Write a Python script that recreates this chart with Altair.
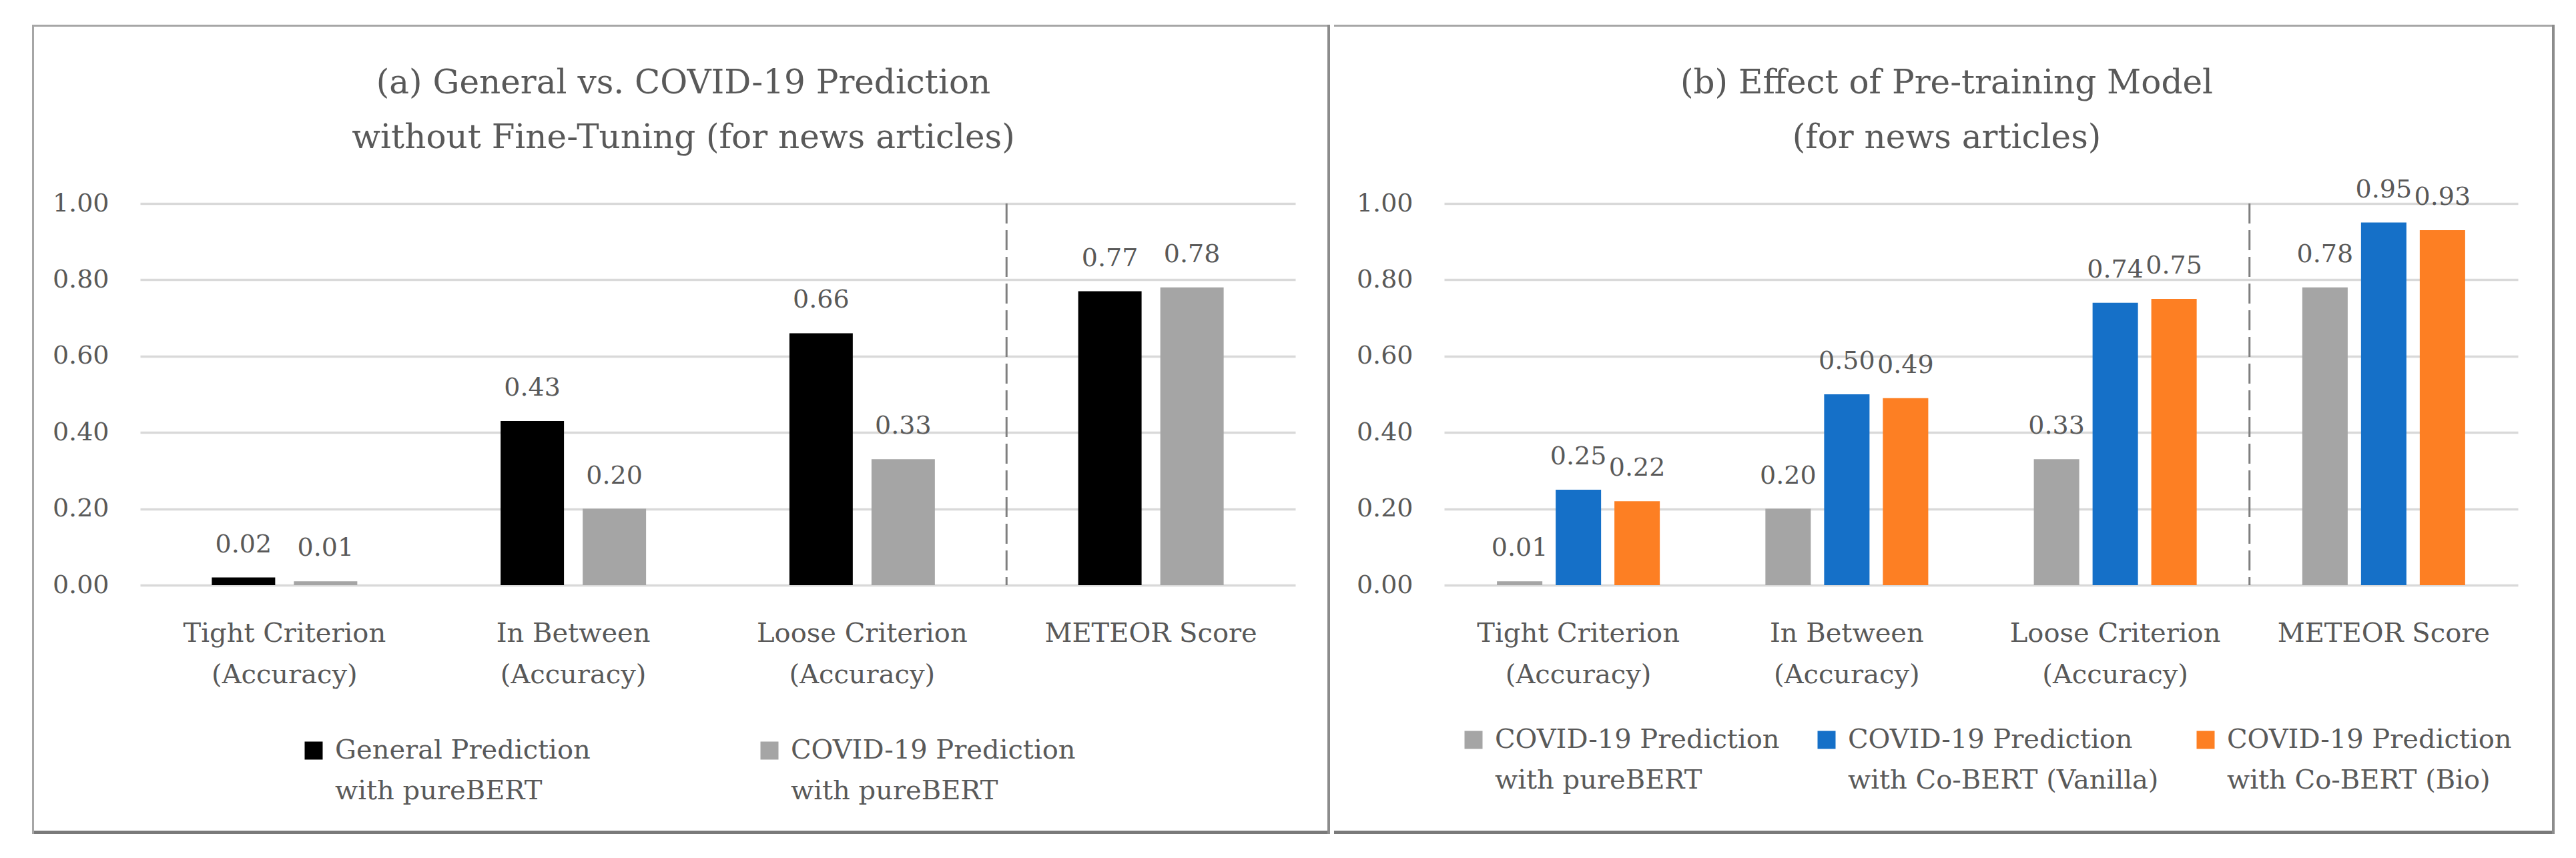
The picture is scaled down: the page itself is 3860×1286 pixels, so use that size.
import altair as alt
import pandas as pd

# ---------------- data ----------------
categories = ["Tight Criterion\n(Accuracy)", "In Between\n(Accuracy)",
              "Loose Criterion\n(Accuracy)", "METEOR Score"]

a_series = ["General Prediction\nwith pureBERT", "COVID-19 Prediction\nwith pureBERT"]
a_general = [0.02, 0.43, 0.66, 0.77]
a_covid = [0.01, 0.20, 0.33, 0.78]
a_colors = ["#000000", "#a5a5a5"]

b_series = ["COVID-19 Prediction\nwith pureBERT",
            "COVID-19 Prediction\nwith Co-BERT (Vanilla)",
            "COVID-19 Prediction\nwith Co-BERT (Bio)"]
b_pure = [0.01, 0.20, 0.33, 0.78]
b_vanilla = [0.25, 0.50, 0.74, 0.95]
b_bio = [0.22, 0.49, 0.75, 0.93]
b_colors = ["#a5a5a5", "#1570c8", "#fd7f23"]

y_ticks = [0.0, 0.2, 0.4, 0.6, 0.8, 1.0]
title_a = ["(a) General vs. COVID-19 Prediction", "without Fine-Tuning (for news articles)"]
title_b = ["(b) Effect of Pre-training Model", "(for news articles)"]

FONT = "DejaVu Serif"
TXT = "#595959"
H = 572


def one():
    return alt.Chart(pd.DataFrame({"k": [0]}))


def make_panel(series, values, colors, title_lines, width, pin, pout,
               frame_l, frame_r, legend_x, legend_y, col_pad, title_x, draw_left):
    rows = []
    for s, vals in zip(series, values):
        for c, v in zip(categories, vals):
            rows.append({"category": c, "series": s, "value": v})
    df = pd.DataFrame(rows)
    base = alt.Chart(df)

    x = alt.X("category:N", sort=categories,
              scale=alt.Scale(domain=categories, paddingInner=0, paddingOuter=0),
              axis=alt.Axis(title=None, labelAngle=0,
                            labelExpr="split(datum.label, '\\n')",
                            ticks=False, tickSize=0, domain=False,
                            labelFontSize=40, labelLineHeight=62, labelPadding=52,
                            labelColor=TXT, labelFont=FONT, labelLimit=1000))
    xo = alt.XOffset("series:N", sort=series,
                     scale=alt.Scale(domain=series, paddingInner=pin, paddingOuter=pout))
    y = alt.Y("value:Q", scale=alt.Scale(domain=[0, 1], nice=False, zero=True),
              axis=alt.Axis(title=None, values=y_ticks, format=".2f", grid=True,
                            gridColor="#d9d9d9", gridWidth=3.5, domain=False,
                            ticks=False, tickSize=0, labelFontSize=38, labelPadding=47,
                            labelColor=TXT, labelFont=FONT))
    color = alt.Color("series:N", sort=series,
                      scale=alt.Scale(domain=series, range=colors),
                      legend=alt.Legend(title=None, orient="none", legendX=legend_x,
                                        legendY=legend_y, direction="horizontal",
                                        symbolType="square", symbolSize=729,
                                        symbolStrokeWidth=0, labelFontSize=40,
                                        labelColor=TXT, labelFont=FONT,
                                        labelExpr="split(datum.label, '\\n')",
                                        labelLimit=1000, labelOffset=12,
                                        columnPadding=col_pad, labelBaseline="middle",
                                        padding=0))

    bars = base.mark_bar().encode(x=x, xOffset=xo, y=y, color=color)
    labels = base.mark_text(baseline="alphabetic", dy=-38, fontSize=38,
                            color=TXT, font=FONT).encode(
        x=alt.X("category:N", sort=categories),
        xOffset=alt.XOffset("series:N", sort=series),
        y="value:Q",
        text=alt.Text("value:Q", format=".2f"))

    sep = alt.Chart(pd.DataFrame({"category": [categories[3]]})).mark_rule(
        color="#7f7f7f", strokeWidth=3, strokeDash=[30, 10]).encode(
        x=alt.X("category:N", bandPosition=0, sort=categories),
        y=alt.datum(1.0), y2=alt.datum(0.0))

    title = one().mark_text(font=FONT, fontSize=50, color=TXT, align="center",
                            baseline="middle", lineHeight=82).encode(
        x=alt.value(title_x), y=alt.value(-180), text=alt.value(title_lines))

    top, bottom = -268, 945
    frame = one().mark_rect(fill="white", fillOpacity=0, strokeWidth=0).encode(
        x=alt.value(frame_l), x2=alt.value(frame_r), y=alt.value(top), y2=alt.value(bottom))
    border_top = one().mark_rule(color="#a6a6a6", strokeWidth=3).encode(
        x=alt.value(frame_l), x2=alt.value(frame_r), y=alt.value(top + 1.5))
    border_bottom = one().mark_rule(color="#7a7a7a", strokeWidth=5).encode(
        x=alt.value(frame_l), x2=alt.value(frame_r), y=alt.value(bottom - 2.5))
    border_right = one().mark_rule(color="#8c8c8c", strokeWidth=4).encode(
        x=alt.value(frame_r - 2), y=alt.value(top), y2=alt.value(bottom))
    layers = [frame, bars, labels, sep, title, border_top, border_bottom, border_right]
    if draw_left:
        border_left = one().mark_rule(color="#a6a6a6", strokeWidth=3).encode(
            x=alt.value(frame_l + 1.5), y=alt.value(top), y2=alt.value(bottom))
        layers.append(border_left)
    return alt.layer(*layers).properties(width=width, height=H)


panel_a = make_panel(a_series, [a_general, a_covid], a_colors, title_a, 1731,
                     0.228, 0.873, -162, 1783, 240, 800, 248, 814, True)
panel_b = make_panel(b_series, [b_pure, b_vanilla, b_bio], b_colors, title_b, 1609,
                     0.227, 0.899, -165, 1664, 24, 784, 50, 753, False)

chart = alt.hconcat(panel_a, panel_b, spacing=0).resolve_scale(
    color="independent", x="independent", y="independent", xOffset="independent"
).resolve_legend(color="independent").properties(
    padding={"left": 37, "top": 27, "right": 10, "bottom": 10}
).configure(font=FONT, style={"guide-label": {"lineHeight": 61}}
).configure_view(strokeOpacity=0)

chart.save("out.html", embed_options={"renderer": "svg", "actions": False})
